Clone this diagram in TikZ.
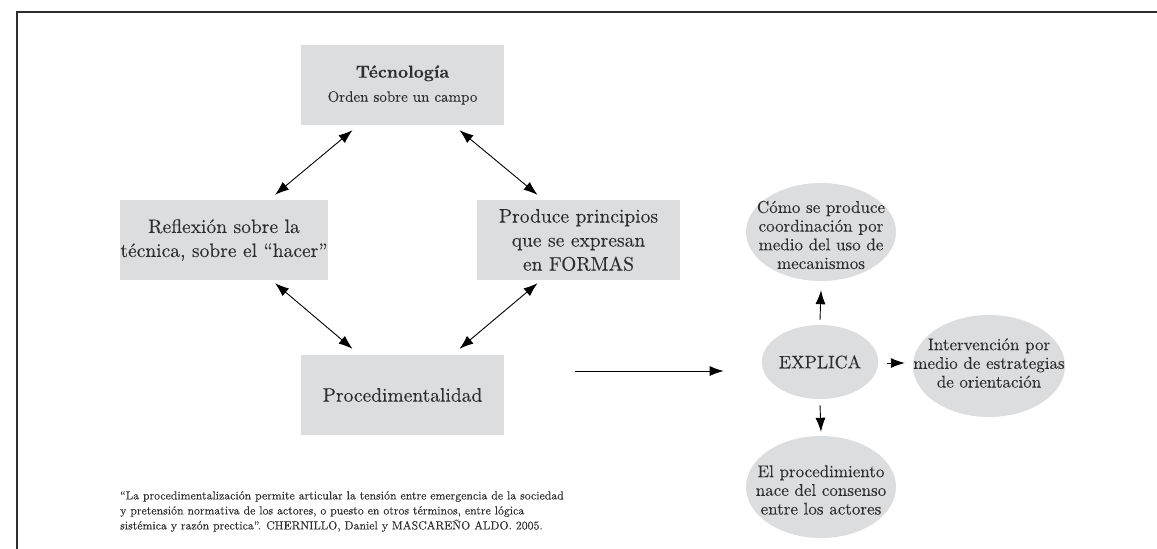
\documentclass[tikz,border=0pt]{standalone}
\usepackage{fontspec}
\setmainfont{lmroman10-regular.otf}[FakeBold=0.12,BoldFont=lmroman10-bold.otf,BoldFeatures={FakeBold=0.15}]
\usetikzlibrary{arrows.meta,shapes.geometric}
\definecolor{boxgray}{HTML}{DCDDDF}
\definecolor{ink}{HTML}{2E2E2E}
\begin{document}
\begin{tikzpicture}[x=1pt,y=-1pt,
  box/.style={rectangle, fill=boxgray, minimum width=203pt, minimum height=80pt, align=center, text=ink, inner sep=0pt, font=\fontsize{19.5}{24}\selectfont},
  oval/.style={ellipse, fill=boxgray, inner sep=0pt},
  otext/.style={align=center, text=ink, inner sep=0pt, font=\fontsize{17}{18.7}\selectfont},
  dar/.style={{Latex[length=14pt,width=10pt]}-{Latex[length=14pt,width=10pt]}, line width=0.9pt, black},
  ar/.style={-{Latex[length=14pt,width=10pt]}, line width=0.9pt, black},
  frameline/.style={line width=1.4pt, draw=ink}
]
\useasboundingbox (0,0) rectangle (1157,549);
\draw[frameline] (17,549) -- (17,12) -- (1157,12);

% boxes
\node[box] (tec) at (402.5,85) {{\fontsize{17.5}{21}\selectfont\bfseries Técnología}\\{\fontsize{15}{21}\selectfont Orden sobre un campo}};
\node[box] (refl) at (224,240) {Reflexión sobre la\\técnica, sobre el “hacer”};
\node[box] (prod) at (578.5,240) {Produce principios\\que se expresan\\en FORMAS};
\node[box] (proc) at (402.5,395) {Procedimentalidad};

% diamond arrows
\draw[dar] ([xshift=-50pt,yshift=-5pt]tec.south) -- ([xshift=51pt,yshift=5pt]refl.north);
\draw[dar] ([xshift=57pt,yshift=-5pt]tec.south) -- ([xshift=-41pt,yshift=5pt]prod.north);
\draw[dar] ([xshift=51pt,yshift=-3pt]refl.south) -- ([xshift=-50pt,yshift=6pt]proc.north);
\draw[dar] ([xshift=-41pt,yshift=-3pt]prod.south) -- ([xshift=57pt,yshift=6pt]proc.north);

% ellipses
\node[oval, minimum width=98pt, minimum height=74pt, text=ink, font=\fontsize{18}{20}\selectfont] (expl) at (820,362) {EXPLICA};
\node[oval, minimum width=150pt, minimum height=98pt] (top) at (821,232) {};
\node[otext] (topT) at ([yshift=-3pt]top.center) {Cómo se produce\\coordinación por\\medio del uso de\\mecanismos};
\node[oval, minimum width=152pt, minimum height=102pt] (right) at (989,366) {};
\node[otext] (rightT) at ([yshift=3pt]right.center) {Intervención por\\medio de estrategias\\de orientación};
\node[oval, minimum width=150pt, minimum height=102pt] (bot) at (821,487) {};
\node[otext] (botT) at ([yshift=-3pt]bot.center) {El procedimiento\\nace del consenso\\entre los actores};

% arrows from EXPLICA
\draw[ar] ([xshift=71pt,yshift=24pt]proc.east) -- ([xshift=-38pt,yshift=-9pt]expl.west);
\draw[ar] ([yshift=5pt]expl.north) -- ([yshift=-9pt]top.south);
\draw[ar] ([xshift=9pt,yshift=-1pt]expl.east) -- ([xshift=-8pt,yshift=-1pt]expl.east -| right.west);
\draw[ar] ([yshift=-6pt]expl.south) -- ([yshift=4pt]bot.north);

% quote
\node[anchor=north west, align=left, text=ink, inner sep=0pt, font=\fontsize{11.8}{15}\selectfont] (quote) at (120,491) {“La procedimentalización permite articular la tensión entre emergencia de la sociedad\\y pretensión normativa de los actores, o puesto en otros términos, entre lógica\\sistémica y razón prectica”. CHERNILLO, Daniel y MASCAREÑO ALDO. 2005.};
\end{tikzpicture}
\end{document}
